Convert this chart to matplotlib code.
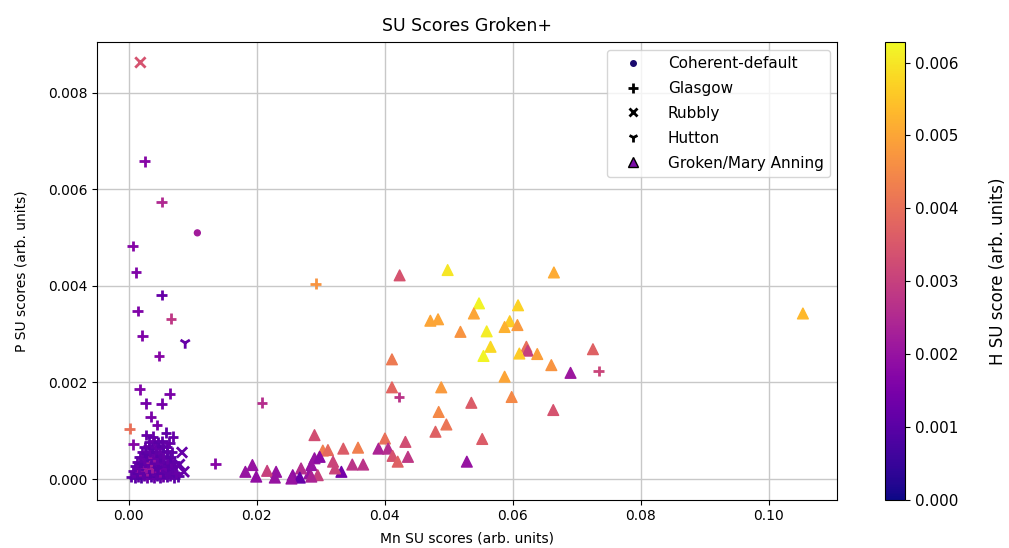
import numpy as np
import matplotlib
matplotlib.use("Agg")
import matplotlib.pyplot as plt
from matplotlib.colors import Normalize
from matplotlib.lines import Line2D

# (Mn, P, H) SU scores per site
coherent = [
    (0.0107, 0.00510, 0.0022),
    (0.0022, 0.00012, 0.0053),
    (0.0030, 0.00010, 0.0009),
    (0.0042, 0.00030, 0.0020),
]

glasgow = [
    (0.0025, 0.00658, 0.0017), (0.0051, 0.00574, 0.0025), (0.0006, 0.00483, 0.0017),
    (0.0011, 0.00428, 0.0016), (0.0051, 0.00381, 0.0012), (0.0014, 0.00348, 0.0016),
    (0.0066, 0.00332, 0.0028), (0.0021, 0.00297, 0.0016), (0.0047, 0.00255, 0.0017),
    (0.0017, 0.00186, 0.0016), (0.0064, 0.00177, 0.0015), (0.0026, 0.00157, 0.0014),
    (0.0051, 0.00156, 0.0014), (0.0034, 0.00129, 0.0015), (0.0044, 0.00112, 0.0015),
    (0.0001, 0.00104, 0.0040), (0.0007, 0.00072, 0.0017), (0.0027, 0.00091, 0.0012),
    (0.0037, 0.00088, 0.0012), (0.0058, 0.00096, 0.0011), (0.0069, 0.00088, 0.0012),
    (0.0135, 0.00032, 0.0017), (0.0208, 0.00158, 0.0026), (0.0292, 0.00405, 0.0047),
    (0.0422, 0.00170, 0.0027), (0.0734, 0.00224, 0.0031),
    # dense cluster near origin
    (0.0004, 0.00005, 0.0011), (0.0009, 0.00002, 0.0010), (0.0014, 0.00006, 0.0012),
    (0.0019, 0.00003, 0.0009), (0.0024, 0.00007, 0.0011), (0.0029, 0.00002, 0.0013),
    (0.0034, 0.00006, 0.0010), (0.0039, 0.00003, 0.0012), (0.0044, 0.00007, 0.0009),
    (0.0049, 0.00002, 0.0011), (0.0054, 0.00006, 0.0013), (0.0059, 0.00004, 0.0010),
    (0.0065, 0.00007, 0.0012), (0.0071, 0.00003, 0.0011), (0.0077, 0.00006, 0.0010),
    (0.0007, 0.00016, 0.0012), (0.0013, 0.00013, 0.0010), (0.0018, 0.00017, 0.0019),
    (0.0023, 0.00012, 0.0011), (0.0028, 0.00018, 0.0021), (0.0033, 0.00014, 0.0010),
    (0.0038, 0.00017, 0.0012), (0.0043, 0.00012, 0.0011), (0.0048, 0.00016, 0.0018),
    (0.0053, 0.00013, 0.0010), (0.0058, 0.00018, 0.0012), (0.0063, 0.00014, 0.0011),
    (0.0068, 0.00017, 0.0010), (0.0074, 0.00013, 0.0012),
    (0.0010, 0.00026, 0.0011), (0.0016, 0.00023, 0.0012), (0.0021, 0.00027, 0.0010),
    (0.0026, 0.00024, 0.0020), (0.0031, 0.00026, 0.0011), (0.0036, 0.00023, 0.0022),
    (0.0041, 0.00027, 0.0010), (0.0046, 0.00024, 0.0012), (0.0051, 0.00026, 0.0011),
    (0.0056, 0.00023, 0.0013), (0.0061, 0.00027, 0.0010), (0.0067, 0.00024, 0.0011),
    (0.0072, 0.00026, 0.0012),
    (0.0013, 0.00036, 0.0012), (0.0019, 0.00034, 0.0010), (0.0025, 0.00037, 0.0011),
    (0.0030, 0.00034, 0.0012), (0.0035, 0.00036, 0.0023), (0.0040, 0.00033, 0.0011),
    (0.0045, 0.00037, 0.0010), (0.0050, 0.00034, 0.0012), (0.0055, 0.00036, 0.0011),
    (0.0061, 0.00033, 0.0010), (0.0066, 0.00037, 0.0012), (0.0071, 0.00035, 0.0011),
    (0.0017, 0.00046, 0.0011), (0.0023, 0.00044, 0.0012), (0.0029, 0.00047, 0.0010),
    (0.0034, 0.00044, 0.0011), (0.0039, 0.00046, 0.0020), (0.0044, 0.00043, 0.0012),
    (0.0049, 0.00047, 0.0010), (0.0054, 0.00045, 0.0011), (0.0060, 0.00043, 0.0012),
    (0.0065, 0.00046, 0.0010),
    (0.0021, 0.00056, 0.0012), (0.0027, 0.00054, 0.0010), (0.0033, 0.00057, 0.0011),
    (0.0038, 0.00055, 0.0012), (0.0043, 0.00057, 0.0010), (0.0048, 0.00054, 0.0011),
    (0.0054, 0.00056, 0.0012), (0.0060, 0.00058, 0.0010), (0.0067, 0.00055, 0.0011),
    (0.0025, 0.00066, 0.0011), (0.0031, 0.00068, 0.0012), (0.0036, 0.00065, 0.0010),
    (0.0042, 0.00067, 0.0011), (0.0047, 0.00064, 0.0012), (0.0053, 0.00068, 0.0010),
    (0.0059, 0.00066, 0.0011),
    (0.0032, 0.00077, 0.0011), (0.0040, 0.00079, 0.0012), (0.0046, 0.00076, 0.0010),
    (0.0052, 0.00078, 0.0011), (0.0063, 0.00075, 0.0012),
]

rubbly = [
    (0.0018, 0.00863, 0.0034),
    (0.0083, 0.00055, 0.0012),
    (0.0086, 0.00015, 0.0012),
    (0.0079, 0.00030, 0.0011),
]

hutton = [
    (0.0088, 0.00282, 0.0012),
    (0.0045, 0.00020, 0.0010),
    (0.0060, 0.00010, 0.0011),
]

groken = [
    (0.0411, 0.00190, 0.0038), (0.0488, 0.00190, 0.0048), (0.0535, 0.00158, 0.0036),
    (0.0484, 0.00139, 0.0045), (0.0496, 0.00113, 0.0041), (0.0479, 0.00098, 0.0037),
    (0.0528, 0.00036, 0.0020), (0.0290, 0.00091, 0.0033), (0.0303, 0.00059, 0.0043),
    (0.0311, 0.00060, 0.0039), (0.0335, 0.00063, 0.0036), (0.0358, 0.00065, 0.0043),
    (0.0390, 0.00063, 0.0024), (0.0400, 0.00084, 0.0040), (0.0405, 0.00063, 0.0026),
    (0.0432, 0.00077, 0.0033), (0.0412, 0.00048, 0.0034), (0.0420, 0.00036, 0.0037),
    (0.0436, 0.00046, 0.0028), (0.0349, 0.00030, 0.0027), (0.0366, 0.00030, 0.0027),
    (0.0332, 0.00015, 0.0014), (0.0319, 0.00036, 0.0031), (0.0322, 0.00022, 0.0031),
    (0.0290, 0.00043, 0.0020), (0.0298, 0.00046, 0.0018), (0.0285, 0.00029, 0.0020),
    (0.0282, 0.00012, 0.0020), (0.0295, 0.00008, 0.0030), (0.0285, 0.00005, 0.0024),
    (0.0269, 0.00022, 0.0026), (0.0256, 0.00008, 0.0019), (0.0267, 0.00003, 0.0012),
    (0.0254, 0.00001, 0.0020), (0.0230, 0.00015, 0.0020), (0.0216, 0.00017, 0.0030),
    (0.0228, 0.00003, 0.0020), (0.0193, 0.00029, 0.0020), (0.0182, 0.00015, 0.0020),
    (0.0199, 0.00005, 0.0019), (0.0423, 0.00422, 0.0034), (0.0498, 0.00433, 0.0060),
    (0.0664, 0.00428, 0.0051), (0.0547, 0.00364, 0.0062), (0.0608, 0.00360, 0.0057),
    (0.0539, 0.00343, 0.0050), (0.0471, 0.00328, 0.0050), (0.0483, 0.00331, 0.0050),
    (0.0595, 0.00327, 0.0056), (0.0587, 0.00315, 0.0052), (0.0607, 0.00319, 0.0048),
    (0.0518, 0.00305, 0.0047), (0.0559, 0.00306, 0.0061), (0.0565, 0.00274, 0.0058),
    (0.0621, 0.00274, 0.0040), (0.0623, 0.00266, 0.0030), (0.0554, 0.00255, 0.0062),
    (0.0610, 0.00260, 0.0056), (0.0638, 0.00259, 0.0049), (0.0660, 0.00236, 0.0047),
    (0.0690, 0.00220, 0.0021), (0.0725, 0.00269, 0.0037), (0.0587, 0.00212, 0.0050),
    (0.0598, 0.00170, 0.0045), (0.0663, 0.00143, 0.0034), (0.0552, 0.00083, 0.0036),
    (0.0411, 0.00248, 0.0042), (0.1053, 0.00343, 0.0053),
]

h_max = 0.00628

fig = plt.figure(figsize=(10.09, 5.48), dpi=100)
ax = fig.add_axes([0.096, 0.088, 0.734, 0.835])
cax = fig.add_axes([0.877, 0.088, 0.020, 0.835])

norm = Normalize(vmin=0, vmax=h_max)
cmap = "plasma"

sites = [
    (coherent, "o", 18, "Coherent-default"),
    (glasgow, "+", 60, "Glasgow"),
    (rubbly, "x", 55, "Rubbly"),
    (hutton, "1", 70, "Hutton"),
    (groken, "^", 60, "Groken/Mary Anning"),
]

sc = None
for data, marker, size, label in sites:
    arr = np.array(data)
    sc = ax.scatter(arr[:, 0], arr[:, 1], c=arr[:, 2], cmap=cmap, norm=norm,
                    marker=marker, s=size, linewidths=2.0 if marker in "+x1" else None,
                    zorder=3)

ax.grid(True, color="#c8c8c8", lw=1.0)
ax.set_axisbelow(True)
ax.set_xlim(-0.0050, 0.1107)
ax.set_ylim(-0.00043, 0.00905)
ax.set_xticks([0.0, 0.02, 0.04, 0.06, 0.08, 0.10])
ax.set_yticks([0.0, 0.002, 0.004, 0.006, 0.008])
ax.set_xticklabels(["0.00", "0.02", "0.04", "0.06", "0.08", "0.10"])
ax.set_yticklabels(["0.000", "0.002", "0.004", "0.006", "0.008"])
ax.set_title("SU Scores Groken+", fontsize=12.5, pad=8)
ax.set_xlabel("Mn SU scores (arb. units)", labelpad=6)
ax.set_ylabel("P SU scores (arb. units)", labelpad=14)

handles = [
    Line2D([], [], ls="", marker="o", ms=4, color="#1a0a6e"),
    Line2D([], [], ls="", marker="+", ms=7, mew=2, color="black"),
    Line2D([], [], ls="", marker="x", ms=6, mew=2, color="black"),
    Line2D([], [], ls="", marker="1", ms=7, mew=2, color="black"),
    Line2D([], [], ls="", marker="^", ms=7, mfc="#7a0ca8", mec="black"),
]
ax.legend(handles, [s[3] for s in sites], loc="upper right", fontsize=11,
          handlelength=2.6, handletextpad=1.0, labelspacing=0.65)

cb = fig.colorbar(sc, cax=cax)
cb.ax.tick_params(labelsize=11)
cb.set_label("H SU score (arb. units)", fontsize=12, labelpad=22)

fig.savefig("out.png", dpi=100)
